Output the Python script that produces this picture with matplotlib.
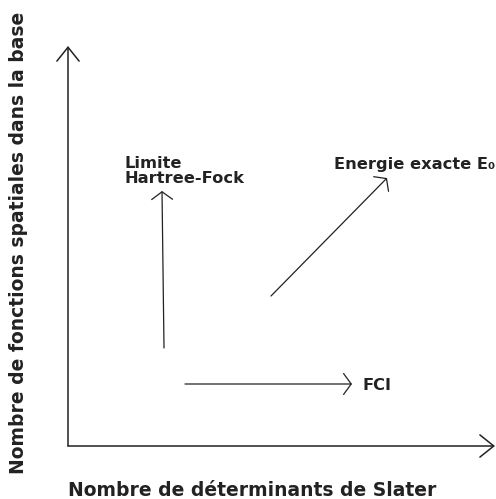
import matplotlib.pyplot as plt

# arrows: (x_start, y_start) -> (x_end, y_end), in pixel-like units of the sketch
axis_starts = [(68, 446), (68, 446)]
axis_ends = [(68, 46), (495, 446)]
path_starts = [(164, 348), (271, 296), (185, 384)]
path_ends = [(162, 191), (387, 178), (352, 384)]

labels = ["Limite\nHartree-Fock", "Energie exacte E₀", "FCI"]
label_pos = [(124, 171), (334, 165), (363, 386)]

xlabel = "Nombre de déterminants de Slater"
ylabel = "Nombre de fonctions spatiales dans la base"

fig = plt.figure(figsize=(4.96, 4.99), dpi=100)
ax = fig.add_axes([0, 0, 1, 1])
ax.set_xlim(0, 496)
ax.set_ylim(499, 0)
ax.axis("off")

col = "#222222"
for s, e in zip(axis_starts, axis_ends):
    ax.annotate("", xy=e, xytext=s,
                arrowprops=dict(arrowstyle="->,head_length=1.0,head_width=0.8",
                                mutation_scale=10, lw=1.1, color=col,
                                shrinkA=0, shrinkB=0))
for s, e in zip(path_starts, path_ends):
    ax.annotate("", xy=e, xytext=s,
                arrowprops=dict(arrowstyle="->,head_length=0.55,head_width=0.75",
                                mutation_scale=10, lw=0.9, color=col,
                                shrinkA=0, shrinkB=0))

for t, (x, y) in zip(labels, label_pos):
    ax.text(x, y, t, fontsize=11.7, fontweight="bold", color=col,
            ha="left", va="center", linespacing=1.05)

ax.text(68, 496, xlabel, fontsize=13.5, fontweight="bold", color=col,
        ha="left", va="baseline")
ax.text(19, 243, ylabel, fontsize=13.5, fontweight="bold", color=col,
        ha="center", va="center", rotation=90)

fig.savefig("out.png", dpi=100)
